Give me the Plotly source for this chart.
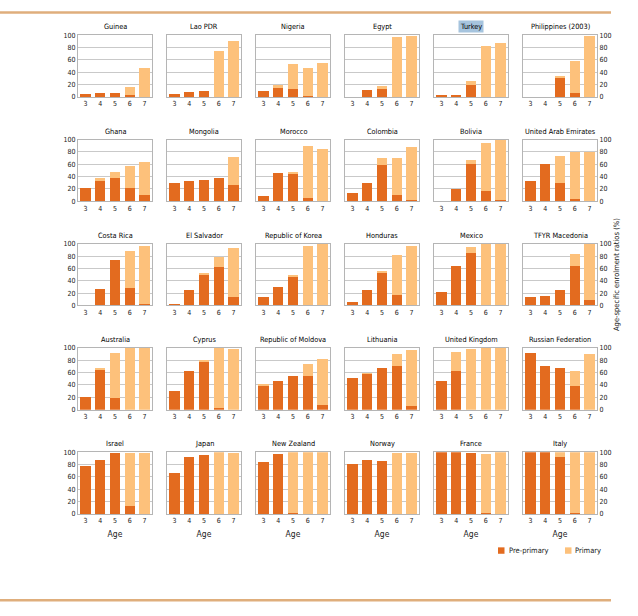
import plotly.graph_objects as go

# ---------------- data ----------------
ages = ["3", "4", "5", "6", "7"]

countries = [
    "Guinea", "Lao PDR", "Nigeria", "Egypt", "Turkey", "Philippines (2003)",
    "Ghana", "Mongolia", "Morocco", "Colombia", "Bolivia", "United Arab Emirates",
    "Costa Rica", "El Salvador", "Republic of Korea", "Honduras", "Mexico", "TFYR Macedonia",
    "Australia", "Cyprus", "Republic of Moldova", "Lithuania", "United Kingdom", "Russian Federation",
    "Israel", "Japan", "New Zealand", "Norway", "France", "Italy",
]

pre_primary = [
    [5, 7, 7, 4, 0], [5, 8.5, 10, 0, 0], [10, 15, 13, 2, 0],
    [0, 12, 13.5, 0, 0], [2, 4, 20, 0, 0], [0, 0, 31, 7, 0],
    [21, 35, 37, 22, 10], [29, 33.5, 35, 37, 25.5], [8, 46, 46, 5, 0],
    [14, 29, 59, 10, 2], [0, 19, 61, 16, 2], [33.5, 60.5, 29, 3, 0],
    [0, 27, 73, 29, 2], [3, 25.5, 51, 62, 14], [14, 30, 48, 0, 0],
    [5, 25.5, 53, 17.5, 0], [21, 64, 85, 1.5, 0], [14, 16, 25.5, 64, 8],
    [20, 65, 18.5, 0, 0], [31, 62, 78, 2.5, 0], [39, 46, 54, 55, 7.5],
    [52, 58.5, 68, 71, 6], [47, 62, 0, 0, 0], [92, 71, 68, 39, 0],
    [78, 88, 99, 13, 0], [65.5, 92.5, 96, 0, 0], [84.5, 97, 2, 0, 0],
    [81.5, 88, 86, 0, 0], [100, 100, 99, 2, 0], [100, 100, 92.5, 2, 0],
]

primary = [
    [0, 0, 0, 12.5, 47], [0, 0, 0, 74, 90], [0, 5, 40, 45, 55],
    [0, 0, 3.5, 97, 99], [0, 0, 6, 83, 88], [0, 0, 2, 52, 99],
    [0, 2, 11, 35, 54], [0, 0, 0, 0, 46.5], [0, 0, 1.5, 84, 84.5],
    [0, 0, 11, 60, 86], [0, 0, 6, 78, 98], [0, 0, 44, 77, 79],
    [0, 0, 0, 59, 94], [0, 0, 2, 16, 78.5], [0, 0, 1.5, 96, 100],
    [0, 0, 3, 63.5, 96], [0, 0, 9, 98.5, 100], [0, 0, 0, 19, 92],
    [0, 1.5, 73.5, 100, 100], [0, 0, 3, 97.5, 98], [2, 0, 0, 19.5, 75],
    [0, 0.5, 0, 19.5, 91], [0, 31.5, 98.5, 100, 100], [0, 0, 0, 24, 90],
    [0, 0, 0, 86, 99], [0, 0, 0, 100, 99], [0, 0, 98, 100, 100],
    [0, 0, 0, 99, 99], [0, 0, 0, 95.5, 100], [0, 0, 7.5, 98, 100],
]

y_ticks = [0, 20, 40, 60, 80, 100]
series_names = ["Pre-primary", "Primary"]

# ---------------- styling ----------------
W, H = 638, 616
PRE_COLOR = "#E36B1F"
PRIM_COLOR = "#FDC17B"
RULE_COLOR = "#DFAE7C"
GRID = "#C9C9C9"
FRAME = "#B5B5B5"
FONT = "Liberation Sans Narrow, Arial Narrow, DejaVu Sans Condensed, Liberation Sans, sans-serif"
TXT = "#1a1a1a"

NCOL = 6
X0, XPITCH, PW = 78, 89, 74
T0, YPITCH, PH = 31.7, 105.6, 62.5


def px_x(v):
    return v / W


def px_y(v):
    return 1 - v / H


fig = go.Figure()
layout = dict(
    width=W, height=H, margin=dict(l=0, r=0, t=0, b=0),
    paper_bgcolor="white", plot_bgcolor="white",
    barmode="stack", bargap=0.3,
    font=dict(family=FONT, size=7, color=TXT),
    showlegend=False,
)
annotations = []
shapes = []

for i, name in enumerate(countries):
    r, c = divmod(i, NCOL)
    n = i + 1
    sfx = "" if n == 1 else str(n)
    xa, ya = "x" + sfx, "y" + sfx
    fig.add_bar(x=ages, y=pre_primary[i], xaxis=xa, yaxis=ya, name=series_names[0],
                marker=dict(color=PRE_COLOR, line=dict(width=0)))
    fig.add_bar(x=ages, y=primary[i], xaxis=xa, yaxis=ya, name=series_names[1],
                marker=dict(color=PRIM_COLOR, line=dict(width=0)))

    x0 = X0 + XPITCH * c
    x1 = x0 + PW
    top = T0 + YPITCH * r
    bot = top + PH

    xaxis = dict(domain=[px_x(x0), px_x(x1)], anchor=ya, type="category",
                 showline=True, linecolor=FRAME, linewidth=1, mirror=True,
                 showgrid=False, ticks="", tickfont=dict(size=7, family=FONT, color=TXT),
                 fixedrange=True)
    if r == 4:
        xaxis["title"] = dict(text="Age", font=dict(size=8.5, family=FONT, color=TXT), standoff=6)
    yaxis = dict(domain=[px_y(bot), px_y(top)], anchor=xa, range=[0, 100],
                 tickvals=y_ticks, showgrid=True, gridcolor=GRID, gridwidth=1,
                 zeroline=False, showline=True, linecolor=FRAME, linewidth=1, mirror=True,
                 ticks="", tickfont=dict(size=7, family=FONT, color=TXT),
                 showticklabels=(c == 0 or c == NCOL - 1), fixedrange=True)
    if c == NCOL - 1:
        yaxis["side"] = "right"
    if r == 2 and c == NCOL - 1:
        yaxis["title"] = dict(text="Age-specific enrolment ratios (%)",
                              font=dict(size=7.5, family=FONT, color=TXT), standoff=3)
    layout["xaxis" + sfx] = xaxis
    layout["yaxis" + sfx] = yaxis

    ann = dict(text=name, xref="paper", yref="paper", x=px_x((x0 + x1) / 2),
               y=px_y(top - 2), xanchor="center", yanchor="bottom", showarrow=False,
               font=dict(size=7.3, family=FONT, color="#000000"))
    if name == "Turkey":
        ann["bgcolor"] = "#A6C4DE"
        ann["borderpad"] = 1
    annotations.append(ann)

# legend (swatches + labels)
for (sx, tx), label, col in zip([(498, 507), (565, 573)], series_names, [PRE_COLOR, PRIM_COLOR]):
    shapes.append(dict(type="rect", xref="paper", yref="paper",
                       x0=px_x(sx), x1=px_x(sx + 6.5), y0=px_y(557), y1=px_y(550.5),
                       fillcolor=col, line=dict(width=0)))
    annotations.append(dict(text=label, xref="paper", yref="paper", x=px_x(tx), y=px_y(554),
                            xanchor="left", yanchor="middle", showarrow=False,
                            font=dict(size=7.5, family=FONT, color=TXT)))

# decorative rules at top and bottom
for yy in (8.5, 604):
    shapes.append(dict(type="line", xref="paper", yref="paper", x0=0, x1=px_x(611),
                       y0=px_y(yy), y1=px_y(yy), line=dict(color=RULE_COLOR, width=2.5)))

layout["annotations"] = annotations
layout["shapes"] = shapes
fig.update_layout(**layout)
fig.write_html("out.html", config={"displayModeBar": False},
               post_script="document.body.style.margin='0';document.body.style.padding='0';")
